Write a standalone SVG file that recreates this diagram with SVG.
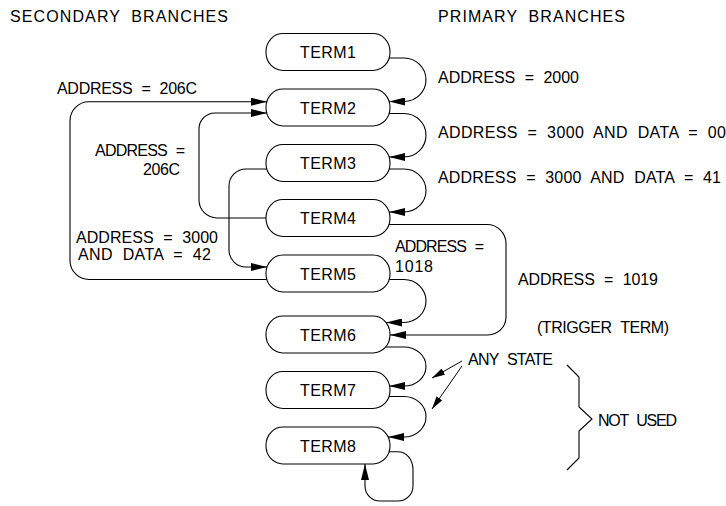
<svg xmlns="http://www.w3.org/2000/svg" width="726" height="506" viewBox="0 0 726 506">
<style>
  .n rect { fill:#fff; stroke:#000; stroke-width:1.1; }
  text { font-family:"Liberation Sans", Arial, sans-serif; font-size:16px; fill:#000; word-spacing:5px; }
  .n text { text-anchor:middle; }
  .c path { fill:none; stroke:#000; stroke-width:1.1; marker-end:url(#ah); }
  .a path { fill:none; stroke:#000; stroke-width:1; marker-end:url(#ahs); }
  .b { fill:none; stroke:#000; stroke-width:1.1; }
</style>
<defs>
  <marker id="ah" markerUnits="userSpaceOnUse" markerWidth="16" markerHeight="8" refX="16" refY="4" orient="auto" viewBox="0 0 16 8">
    <path d="M0,0 L16,4 L0,8 z" fill="#000"/>
  </marker>
  <marker id="ahs" markerUnits="userSpaceOnUse" markerWidth="13" markerHeight="7" refX="13" refY="3.5" orient="auto" viewBox="0 0 13 7">
    <path d="M0,0 L13,3.5 L0,7 z" fill="#000"/>
  </marker>
</defs>

<text x="10" y="22" textLength="218" lengthAdjust="spacing">SECONDARY BRANCHES</text>
<text x="438" y="22" textLength="187" lengthAdjust="spacing">PRIMARY BRANCHES</text>

<g id="connectors" class="c">
  <!-- primary -->
  <path d="M389,58 H404 A22,21.75 0 0 1 404,101.5 H389"/>
  <path d="M389,113.5 H404 A22,21.75 0 0 1 404,157 H389"/>
  <path d="M389,169 H404 A22,21.5 0 0 1 404,212 H389"/>
  <path d="M389,224.5 H487 A19,19 0 0 1 506,243.5 V317 A18,18 0 0 1 488,335 H390"/>
  <path d="M389,279.5 H404 A22,21.5 0 0 1 404,322.5 H386"/>
  <path d="M386,347 H404 A22,19.5 0 0 1 404,386 H389"/>
  <path d="M389,396.5 H404 A22,20.25 0 0 1 404,437 H388"/>
  <path d="M389,451.7 H398 A15,18 0 0 1 413,469.7 V486 A15,15 0 0 1 398,501 H380 A15,15 0 0 1 365,486 V464"/>
  <!-- secondary -->
  <path d="M267,279.5 H89 A19,19 0 0 1 70,260.5 V120.7 A19,19 0 0 1 89,101.7 H267"/>
  <path d="M266,218 H217 A18,18 0 0 1 199,200 V129 A16,16 0 0 1 215,113 H267"/>
  <path d="M267,169 H246 A17,17 0 0 0 229,186 V250 A17,17 0 0 0 246,267 H267"/>
</g>

<g id="TERM1" class="n"><rect x="266" y="33.5" width="124" height="37" rx="17" ry="18"/><text x="328" y="58" textLength="56" lengthAdjust="spacing">TERM1</text></g>
<g id="TERM2" class="n"><rect x="266" y="89" width="124" height="37" rx="17" ry="18"/><text x="328" y="113.5" textLength="56" lengthAdjust="spacing">TERM2</text></g>
<g id="TERM3" class="n"><rect x="266" y="144.5" width="124" height="37" rx="17" ry="18"/><text x="328" y="169" textLength="56" lengthAdjust="spacing">TERM3</text></g>
<g id="TERM4" class="n"><rect x="266" y="199.5" width="124" height="37" rx="17" ry="18"/><text x="328" y="224" textLength="56" lengthAdjust="spacing">TERM4</text></g>
<g id="TERM5" class="n"><rect x="266" y="255" width="124" height="37" rx="17" ry="18"/><text x="328" y="279.5" textLength="56" lengthAdjust="spacing">TERM5</text></g>
<g id="TERM6" class="n"><rect x="266" y="316" width="124" height="37" rx="17" ry="18"/><text x="328" y="340.5" textLength="56" lengthAdjust="spacing">TERM6</text></g>
<g id="TERM7" class="n"><rect x="266" y="371.5" width="124" height="37" rx="17" ry="18"/><text x="328" y="396" textLength="56" lengthAdjust="spacing">TERM7</text></g>
<g id="TERM8" class="n"><rect x="266" y="427" width="124" height="37" rx="17" ry="18"/><text x="328" y="451.5" textLength="56" lengthAdjust="spacing">TERM8</text></g>

<g id="labels">
  <text x="57" y="94" textLength="140" lengthAdjust="spacing">ADDRESS = 206C</text>
  <text x="95" y="156" textLength="90" lengthAdjust="spacing">ADDRESS =</text>
  <text x="143" y="175" textLength="37" lengthAdjust="spacing">206C</text>
  <text x="76" y="243" textLength="142" lengthAdjust="spacing">ADDRESS = 3000</text>
  <text x="78" y="260" textLength="133" lengthAdjust="spacing">AND DATA = 42</text>
  <text x="438" y="83" textLength="141" lengthAdjust="spacing">ADDRESS = 2000</text>
  <text x="438" y="138" textLength="288" lengthAdjust="spacing">ADDRESS = 3000 AND DATA = 00</text>
  <text x="438" y="183" textLength="283" lengthAdjust="spacing">ADDRESS = 3000 AND DATA = 41</text>
  <text x="395" y="252" textLength="89" lengthAdjust="spacing">ADDRESS =</text>
  <text x="395" y="272" textLength="38" lengthAdjust="spacing">1018</text>
  <text x="518" y="285" textLength="140" lengthAdjust="spacing">ADDRESS = 1019</text>
  <text x="537" y="333" textLength="132" lengthAdjust="spacing">(TRIGGER TERM)</text>
  <text x="468" y="365" textLength="85" lengthAdjust="spacing">ANY STATE</text>
  <text x="598" y="426" textLength="79" lengthAdjust="spacing">NOT USED</text>
</g>

<g id="annotations" class="a">
  <path d="M462,361 L432,378"/>
  <path d="M462,366 L432,409"/>
</g>
<polyline class="b" points="567,365 579,377 579,407 592,419 579,431 579,458 567,470"/>
</svg>
